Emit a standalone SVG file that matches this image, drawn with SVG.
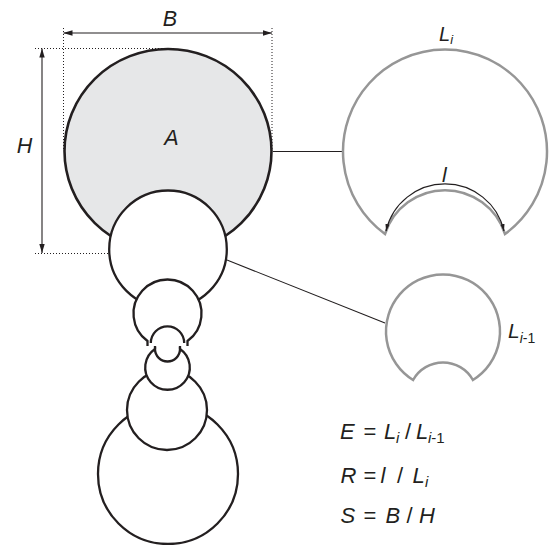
<svg xmlns="http://www.w3.org/2000/svg" width="553" height="545" viewBox="0 0 553 545">
<style>
.k{fill:#fff;stroke:#231f20;stroke-width:2.3}
.g{fill:#fff;stroke:#969696;stroke-width:2.5}
.dot{fill:none;stroke:#231f20;stroke-width:1;stroke-dasharray:1 2}
.ln{fill:none;stroke:#231f20;stroke-width:1.1}
.t{font-family:"Liberation Sans",Arial,sans-serif;font-style:italic;fill:#231f20}
.u{font-style:normal}
</style>
<defs>
<marker id="ah" viewBox="0 0 10 6" refX="10" refY="3" markerWidth="9" markerHeight="5.6" markerUnits="userSpaceOnUse" orient="auto-start-reverse"><path d="M0,0 L10,3 L0,6 z" fill="#231f20"/></marker>
<marker id="as" viewBox="0 0 10 6" refX="10" refY="3" markerWidth="7" markerHeight="4.4" markerUnits="userSpaceOnUse" orient="auto-start-reverse"><path d="M0,0 L10,3 L0,6 z" fill="#231f20"/></marker>
</defs>

<g id="dimensions">
<path class="dot" d="M35,48.5 H168 M35,253.5 H168 M63.5,28 V151 M272,28 V151"/>
<line class="ln" x1="63.5" y1="33" x2="272" y2="33" marker-start="url(#ah)" marker-end="url(#ah)"/>
<line class="ln" x1="42" y1="48.5" x2="42" y2="253" marker-start="url(#ah)" marker-end="url(#ah)"/>
<text class="t" x="170" y="26" font-size="21.5" text-anchor="middle">B</text>
<text class="t" x="24.5" y="153" font-size="21.5" text-anchor="middle">H</text>
</g>

<g id="chain-lower">
<circle class="k" cx="168" cy="474" r="70"/>
<circle class="k" cx="167" cy="410" r="40"/>
<path class="k" d="M155,349 A22.3,22.3 0 1,0 180,349 A12.5,12.5 0 0,1 155,349 Z"/>
<path class="k" fill="none" d="M155,344.5 V349 M180,344.5 V349"/>
</g>

<g id="chamber-A">
<ellipse cx="168" cy="151" rx="103.5" ry="102" fill="#e6e7e8" stroke="#231f20" stroke-width="2.6"/>
<text class="t" x="171.5" y="145" font-size="21.5" text-anchor="middle">A</text>
</g>

<g id="chain-upper">
<circle class="k" cx="168" cy="249.3" r="58.8"/>
<path class="k" d="M147.5,346 V341 A34,34 0 1,1 187.5,341 V346"/>
<path class="k" fill="none" d="M150.8,343 A16.7,16.7 0 0,1 184.2,343"/>
</g>

<g id="connectors">
<line class="ln" x1="273" y1="151.5" x2="342" y2="151.5"/>
<line class="ln" x1="227" y1="260" x2="385" y2="323"/>
</g>

<g id="pattern-Li">
<path class="g" d="M385,234 A102,102 0 1,1 505,234 A63,63 0 0,0 385,234 Z"/>
<path fill="none" stroke="#231f20" stroke-width="1.2" d="M386,231 A60.5,60.5 0 0,1 504,231" marker-start="url(#as)" marker-end="url(#as)"/>
<text class="t" x="439" y="40.5" font-size="20">L<tspan font-size="13" dy="3.5">i</tspan></text>
<text class="t" x="442" y="182" font-size="21">l</text>
</g>

<g id="pattern-Li-1">
<path class="g" d="M413.1,380 A57,57 0 1,1 472.9,380 A34.3,34.3 0 0,0 413.1,380 Z"/>
<text class="t" x="508" y="338.3" font-size="21">L<tspan font-size="14" dy="4.5">i</tspan><tspan class="u" font-size="14">-1</tspan></text>
</g>

<g id="formulas">
<text class="t" y="439.3" font-size="22"><tspan x="340">E</tspan><tspan class="u" x="363.5">=</tspan><tspan x="384">L</tspan><tspan x="396" font-size="15" dy="4">i</tspan><tspan class="u" x="405" dy="-4">/</tspan><tspan x="416">L</tspan><tspan x="428" font-size="15" dy="4">i</tspan><tspan class="u" font-size="15">-1</tspan></text>
<text class="t" y="483.3" font-size="22"><tspan x="340.5">R</tspan><tspan class="u" x="363.5">=</tspan><tspan x="380.5">l</tspan><tspan class="u" x="397">/</tspan><tspan x="412.5">L</tspan><tspan x="425" font-size="15" dy="4">i</tspan></text>
<text class="t" y="523.3" font-size="22"><tspan x="340.5">S</tspan><tspan class="u" x="363.5">=</tspan><tspan x="385.5">B</tspan><tspan class="u" x="406.5">/</tspan><tspan x="419">H</tspan></text>
</g>
</svg>
